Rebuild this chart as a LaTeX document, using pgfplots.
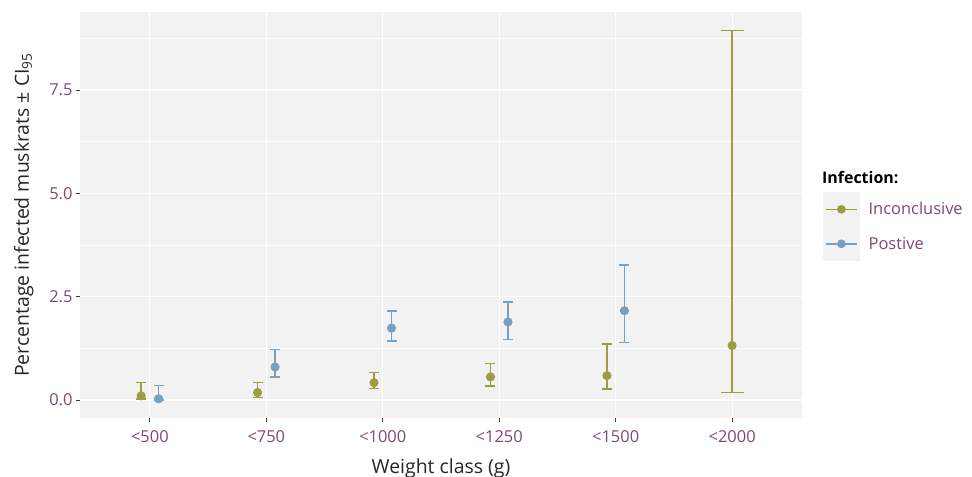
\documentclass[border=0pt]{standalone}
\usepackage{fontspec}
\setmainfont{Open Sans}
\usepackage{pgfplots}
\pgfplotsset{compat=1.18}

\definecolor{incl}{HTML}{9C9C40}
\definecolor{posi}{HTML}{7AA0BE}
\definecolor{tickc}{HTML}{7E4A72}
\definecolor{panel}{HTML}{F2F2F2}

% x, y, error plus, error minus
\pgfplotstableread{
x     y     ep    em
-0.075 0.10 0.32 0.07
0.925  0.18 0.24 0.12
1.925  0.42 0.25 0.14
2.925  0.56 0.32 0.22
3.925  0.59 0.76 0.32
}\inconcl
\pgfplotstableread{
x     y     ep    em
5     1.32 7.62 1.14
}\inconclB
\pgfplotstableread{
x     y     ep    em
0.075 0.03 0.32 0.03
1.075 0.80 0.42 0.24
2.075 1.74 0.42 0.31
3.075 1.89 0.48 0.43
4.075 2.16 1.11 0.77
}\positive

\begin{document}
\begin{tikzpicture}[x=1bp,y=1bp]
\path[use as bounding box] (0,0) rectangle (972,477);
\begin{axis}[
    at={(80bp,59bp)}, anchor=south west,
    scale only axis, width=722bp, height=406bp,
    xmin=-0.6, xmax=5.6, ymin=-0.435, ymax=9.39,
    axis background/.style={fill=panel},
    axis line style={draw=none},
    xtick={0,1,2,3,4,5},
    xticklabels={<500,<750,<1000,<1250,<1500,<2000},
    ytick={0,2.5,5,7.5},
    minor ytick={1.25,3.75,6.25,8.75},
    grid=both,
    major grid style={white, line width=1.2bp},
    minor grid style={white, line width=0.6bp},
    tick align=outside, xtick pos=left, ytick pos=left,
    major tick length=4bp, minor tick length=0pt,
    tick style={draw=black!75, line width=0.8bp},
    ticklabel style={font=\fontsize{16.5}{16.5}\selectfont, text=tickc},
    xticklabel style={yshift=-5bp},
    yticklabel style={/pgf/number format/.cd, fixed, fixed zerofill, precision=1, assume math mode=true},
    xlabel={Weight class (g)},
    ylabel={Percentage infected muskrats ± CI\textsubscript{95}},
    label style={font=\fontsize{19.5}{19.5}\selectfont, text=black!85},
    xlabel style={yshift=-9bp},
    ylabel style={yshift=9bp},
    legend style={at={(axis description cs:1.029,0.557)}, anchor=north west,
        draw=none, fill=none, inner sep=0pt, row sep=0pt, column sep=9bp,
        font=\fontsize{16.5}{16.5}\selectfont, text=tickc,
        nodes={inner sep=0pt, anchor=west}},
    legend cell align=left,
    legend image code/.code={
        \fill[panel] (0bp,-16.5bp) rectangle (35bp,16.5bp);
        \draw[line width=1.5bp] (2bp,0bp) -- (33bp,0bp);
        \fill (17.5bp,0bp) circle (3.6bp);
    },
]
\addplot[incl, only marks, mark=*, mark size=3.8bp, line width=1.5bp,
    error bars/.cd, y dir=both, y explicit,
    error mark options={rotate=90, mark size=5bp, line width=1.5bp, incl},
    error bar style={line width=1.5bp, incl}]
    table[x=x, y=y, y error plus=ep, y error minus=em] {\inconcl};
\addlegendentry{Inconclusive}
\addplot[posi, only marks, mark=*, mark size=3.8bp, line width=1.5bp,
    error bars/.cd, y dir=both, y explicit,
    error mark options={rotate=90, mark size=5bp, line width=1.5bp, posi},
    error bar style={line width=1.5bp, posi}]
    table[x=x, y=y, y error plus=ep, y error minus=em] {\positive};
\addlegendentry{Postive}
\addplot[incl, only marks, mark=*, mark size=3.8bp, line width=1.5bp, forget plot,
    error bars/.cd, y dir=both, y explicit,
    error mark options={rotate=90, mark size=11.5bp, line width=1.5bp, incl},
    error bar style={line width=1.5bp, incl}]
    table[x=x, y=y, y error plus=ep, y error minus=em] {\inconclB};
\end{axis}
\node[anchor=west, font=\fontsize{16}{16}\selectfont\bfseries, inner sep=0pt] at (822,299) {Infection:};
\end{tikzpicture}
\end{document}
